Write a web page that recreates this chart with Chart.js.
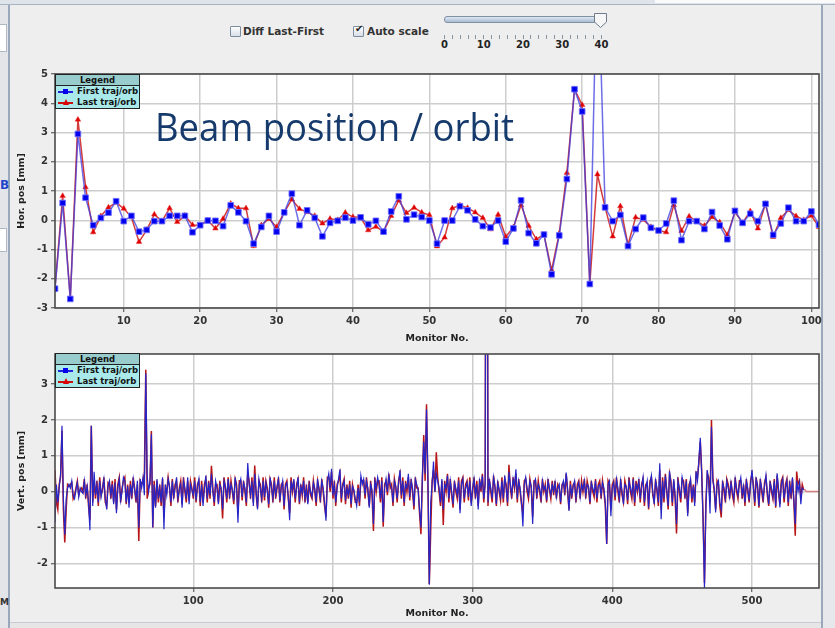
<!DOCTYPE html>
<html><head><meta charset="utf-8">
<script src="https://cdn.jsdelivr.net/npm/chart.js@4.4.1/dist/chart.umd.min.js"></script>
<style>
html,body{margin:0;padding:0;}
body{width:835px;height:628px;overflow:hidden;background:#eeeeee;position:relative;font-family:"DejaVu Sans",sans-serif;}
.a{position:absolute;}
.lbl{font:bold 10.5px "DejaVu Sans",sans-serif;color:#333;white-space:nowrap;}
.chk{width:9px;height:9px;border:1px solid #7d8da0;background:linear-gradient(#ffffff,#d8dee6);border-radius:1px;}
.legend{position:absolute;left:55px;width:83px;border:1px solid #222;background:#a9e9e9;font:bold 8.5px "DejaVu Sans",sans-serif;color:#111;}
.legend .hd{background:#99cccc;border-bottom:1px solid #222;text-align:center;height:10px;line-height:10px;}
.legend .row{position:relative;height:11px;line-height:11px;padding-left:21px;white-space:nowrap;}
.legend .ln{position:absolute;left:2px;top:5px;width:15px;height:1.5px;}
.legend .sq{position:absolute;left:7px;top:3px;width:5px;height:5px;background:#0000ee;}
.legend .tri{position:absolute;left:7px;top:2px;width:0;height:0;border-left:3px solid transparent;border-right:3px solid transparent;border-bottom:6px solid #dd0000;}
.title{position:absolute;left:155px;top:107px;font:38px "Open Sans",sans-serif;line-height:38px;color:#163a6b;white-space:nowrap;transform-origin:0 0;}
.tk{position:absolute;top:35px;width:1px;height:4px;background:#8a95a3;}
.sl{position:absolute;top:39px;font:bold 10px "DejaVu Sans",sans-serif;color:#222;transform:translateX(-50%);}
</style></head>
<body>
<!-- window chrome -->
<div class="a" style="left:0;top:0;width:835px;height:4px;background:#dfe3ea;border-bottom:1px solid #a9b4c2;"></div>
<div class="a" style="left:655px;top:0;width:180px;height:3px;background:#fafafa;"></div>
<div class="a" style="left:0;top:5px;width:8px;height:623px;background:#e3e5e8;"></div>
<div class="a" style="left:8px;top:5px;width:2px;height:623px;background:#9aa8bb;"></div>
<div class="a" style="left:0;top:24px;width:6px;height:26px;background:#fff;border:1px solid #b0b8c4;border-left:none;"></div>
<div class="a" style="left:0;top:228px;width:6px;height:22px;background:#fff;border:1px solid #b0b8c4;border-left:none;"></div>
<div class="a" style="left:0;top:178px;font:bold 12px 'DejaVu Sans';color:#2244cc;">B</div>
<div class="a" style="left:0;top:597px;font:bold 9px 'DejaVu Sans';color:#333;">M</div>
<div class="a" style="left:821px;top:5px;width:2px;height:623px;background:#9aa8bb;"></div>
<div class="a" style="left:823px;top:5px;width:12px;height:623px;background:#e6e8eb;"></div>
<div class="a" style="left:10px;top:622px;width:811px;height:6px;background:#e6e6e6;border-top:1px solid #c8ccd2;"></div>

<!-- controls -->
<div class="a chk" style="left:230px;top:26px;"></div>
<div class="a lbl" style="left:243px;top:25px;">Diff Last-First</div>
<div class="a chk" style="left:353px;top:26px;"></div>
<div class="a" style="left:355px;top:23px;font:bold 10px 'DejaVu Sans';color:#222;">✔</div>
<div class="a lbl" style="left:367px;top:25px;">Auto scale</div>
<div class="a" style="left:444px;top:16px;width:160px;height:5px;border:1px solid #7f8fa4;border-radius:3px;background:linear-gradient(#dde7f2,#a9bdd3);"></div>
<svg class="a" style="left:593px;top:12px;" width="16" height="17"><path d="M1.5 1.5 H13.5 V10 L7.5 15.5 L1.5 10 Z" fill="#f6f6f6" stroke="#6f7c8c" stroke-width="1"/></svg>
<div id="sliderTicks"></div>

<canvas id="top" class="a" style="left:0;top:55px;" width="835" height="290"></canvas>
<canvas id="bot" class="a" style="left:0;top:345px;" width="835" height="277"></canvas>

<div class="title" id="bigTitle">Beam position / orbit</div>

<div class="legend" style="top:74px;">
  <div class="hd">Legend</div>
  <div class="row"><div class="ln" style="background:#2222dd"></div><div class="sq"></div>First traj/orb</div>
  <div class="row"><div class="ln" style="background:#cc1111"></div><div class="tri"></div>Last traj/orb</div>
</div>
<div class="legend" style="top:353px;">
  <div class="hd">Legend</div>
  <div class="row"><div class="ln" style="background:#2222dd"></div><div class="sq"></div>First traj/orb</div>
  <div class="row"><div class="ln" style="background:#cc1111"></div><div class="tri"></div>Last traj/orb</div>
</div>

<script>
// ---------- DATA ----------
// Horizontal (top plot), monitors 1..101
const hFirst = [
 -2.34, 0.59,-2.69, 2.95, 0.77,-0.17, 0.08, 0.26, 0.65,-0.03,
  0.15,-0.39,-0.33,-0.03,-0.03, 0.15, 0.15, 0.15,-0.41,-0.17,
 -0.01,-0.02,-0.20, 0.51, 0.27,-0.03,-0.80,-0.23, 0.15,-0.39,
  0.27, 0.91,-0.17, 0.34, 0.08,-0.55,-0.09,-0.02, 0.09,-0.01,
  0.10,-0.14,-0.02,-0.39, 0.30, 0.82, 0.03, 0.19, 0.11,-0.01,
 -0.80,-0.01,-0.01, 0.48, 0.34, 0.03,-0.20,-0.25,-0.01,-0.73,
 -0.28, 0.68,-0.44,-0.79,-0.49,-1.85,-0.52, 1.41, 4.48, 3.72,
 -2.18, 9.50, 0.44,-0.03, 0.18,-0.88,-0.30, 0.09,-0.26,-0.35,
 -0.11, 0.67,-0.68,-0.03,-0.03,-0.30, 0.28,-0.18,-0.65, 0.32,
 -0.09, 0.22,-0.03, 0.56,-0.50,-0.11, 0.43,-0.03,-0.03, 0.30,
 -0.15];
const hLast = [
 -2.30, 0.83,-2.69, 3.44, 1.13,-0.41, 0.14, 0.44, 0.60, 0.40,
  0.11,-0.74,-0.33, 0.20,-0.03, 0.41,-0.06, 0.16,-0.16,-0.17,
 -0.01,-0.28, 0.05, 0.57, 0.41, 0.41,-0.88,-0.17, 0.05,-0.23,
  0.27, 0.71, 0.39, 0.28, 0.15,-0.11, 0.05, 0.01, 0.26, 0.11,
  0.10,-0.34,-0.22,-0.39, 0.15, 0.68, 0.25, 0.43, 0.27, 0.18,
 -0.89,-0.59, 0.41, 0.51, 0.42, 0.27, 0.08,-0.31, 0.19,-0.56,
 -0.24, 0.52,-0.19,-0.65,-0.49,-1.71,-0.45, 1.62, 4.48, 3.94,
 -2.18, 1.57, 0.44,-0.55, 0.48,-0.84, 0.10, 0.02,-0.23,-0.35,
 -0.41, 0.52,-0.36, 0.13,-0.03,-0.19, 0.11,-0.07,-0.50, 0.28,
 -0.09, 0.31,-0.28, 0.56,-0.57, 0.08, 0.35, 0.14, 0.01, 0.16,
 -0.23];
// Vertical (bottom plot), monitors 1..537 (+ flat tail of last)
const vFirst = [
 -0.86, 0.2,-0.3, 0.1, 0.5, 1.84,-0.2,-1.2,-0.2, 0.1,
  0.2, 0.1, 0.3,-0.1,-0.2, 0.05, 0.25,-0.15, 0.1, 0.0,
 -0.05, 0.3,-0.1, 0.15,-0.3,-1.08, 1.84,-0.4, 0.55,-0.1,
  0.2,-0.3, 0.3,-0.15, 0.1, 0.35,-0.2,-0.5, 0.15, 0.3,
 -0.1, 0.2,-0.35, 0.25,-0.6, 0.1, 0.35,-0.25, 0.0, 0.4,
  0.3,-0.3, 0.15,-0.45, 0.2,-0.1, 0.35, 0.05,-0.2, 0.3,
 -1.0, 0.35, 0.1, 0.4,-0.1, 3.3, 0.45, 0.0, 0.3, 1.6,
 -1.0, 0.2,-0.45, 0.35,-0.2, 0.1,-0.3, 0.4,-1.05, 0.2,
 -0.1, 0.35, 0.15,-0.3, 0.3,-0.15, 0.1, 0.4,-0.2, 0.05,
  0.2,-0.45, 0.3, 0.1,-0.2, 0.4,-0.35, 0.2, 0.05,-0.1,
  0.3,-0.25, 0.15, 0.35,-0.3, 0.2,-0.4, 0.1, 0.45,-0.2,
  0.25,-0.1, 0.5, 0.0,-0.3, 0.3, 0.1,-0.35, 0.2, 0.1,
 -0.5, 0.3, 0.15,-0.2, 0.35,-0.1, 0.2, 0.05,-0.25, 0.4,
  0.1,-0.87, 0.2, 0.35,-0.15, 0.25, 0.1,-0.3, 0.8, 0.2,
 -0.1, 0.3,-0.4, 0.5, 0.05,-0.5, 0.35, 0.1,-0.2, 0.3,
 -0.15, 0.25, 0.0,-0.35, 0.4, 0.1,-0.2, 0.3,-0.1, 0.15,
  0.35,-0.25, 0.1, 0.3,-0.4, 0.15, 0.25,-0.1,-0.8, 0.3,
  0.05, 0.35,-0.2, 0.1, 0.4,-0.3, 0.15,-0.05, 0.3,-0.2,
  0.1,-0.35, 0.2, 0.0,-0.15, 0.25, 0.1,-0.3, 0.35, 0.05,
 -0.2, 0.3, 0.1,-0.3,-0.81, 0.3, 0.5, 0.1, 0.64,-0.1,
  0.2,-0.3, 0.1, 0.35, 0.62,-0.2, 0.15, 0.3,-0.25, 0.1,
 -0.1, 0.2,-0.35, 0.15, 0.05,-0.2,-0.4, 0.1,-0.3, 0.45,
  0.2, 0.35,-0.1, 0.3, 0.1,-0.45, 0.2, 0.05,-0.9, 0.3,
  0.1, 0.4, 0.2,-0.2, 0.3,-0.85, 0.1, 0.35, 0.0, 0.45,
  0.2, 0.1,-0.3, 0.3, 0.15,-0.2, 0.25, 0.6,-0.1, 0.3,
 -0.3, 0.2, 0.1, 0.5,-0.15, 0.3, 0.1,-0.4, 0.35, 0.2,
  0.05,-0.5,-1.0, 0.4, 1.4, 0.5, 2.3, 0.4,-2.6,-0.3,
  0.2, 0.84, 0.0, 0.5, 0.3, 0.1,-0.3, 0.35,-0.5, 0.2,
  0.1, 0.45,-0.2, 0.3, 0.0,-0.35, 0.25, 0.1,-0.1, 0.3,
 -0.6, 0.2, 0.35,-0.2, 0.1, 0.25,-0.15, 0.3,-0.4, 0.1,
  0.35,-0.1, 0.2,-0.5, 0.3, 0.1, 0.45,-0.2, 0.2, 20,
 -0.3, 0.3, 0.1,-0.2, 0.4, 0.15,-0.35, 0.25, 0.05,-0.15,
  0.3,-0.2, 0.45, 0.1,-0.3, 0.55, 0.2,-0.1, 0.35, 0.15,
  0.62,-0.2, 0.3, 0.1,-0.3,-0.97, 0.2, 0.4, 0.1,-0.1,
  0.3, 0.15,-0.9, 0.25, 0.35,-0.1, 0.2, 0.1,-0.2, 0.3,
  0.05, 0.15,-0.25, 0.3, 0.1,-0.1, 0.2, 0.0, 0.25,-0.15,
  0.1, 0.2,-0.3, 0.15, 0.3, 0.0, 0.53, 0.1,-0.54, 0.2,
 -0.1, 0.15, 0.3,-0.2, 0.1, 0.25,-0.15, 0.2, 0.05, 0.3,
 -0.1, 0.2, 0.15,-0.3, 0.25, 0.1,-0.05, 0.3,-0.2, 0.15,
  0.2,-0.1, 0.25, 0.1,-0.3,-1.46, 0.2, 0.3,-0.69, 0.1,
  0.25,-0.15, 0.35, 0.1,-0.2, 0.3, 0.0,-0.35, 0.2, 0.15,
 -0.25, 0.3, 0.1,-0.1, 0.35,-0.3, 0.2, 0.05, 0.3,-0.2,
  0.15, 0.4,-0.3, 0.1, 0.3,-0.45, 0.2, 0.45, 0.0,-0.35,
  0.3, 0.1,-0.3, 0.79,-0.77, 0.3,-0.2, 0.45, 0.05,-0.4,
  0.57, 0.2,-0.3, 0.35,-0.1,-0.9, 0.3, 0.1,-0.2, 0.4,
  0.2,-0.1, 0.3,-0.69, 0.1, 0.35,-0.2, 0.15,-0.4, 0.57,
  0.3, 0.9, 1.5, 0.5,-0.8,-2.7,-0.5, 0.6, 0.3,-0.61,
  1.8, 0.3, 0.1,-0.58, 0.2, 0.3,-0.3,-0.5, 0.25, 0.1,
 -0.2, 0.3, 0.1,-0.15, 0.25, 0.0,-0.2, 0.35, 0.1,-0.1,
  0.2, 0.39,-0.1, 0.15,-0.3, 0.3, 0.1,-0.25, 0.2, 0.6,
  0.1,-0.3, 0.35, 0.2,-0.4, 0.3, 0.1,-0.2, 0.15, 0.46,
  0.0,-0.35, 0.25, 0.1,-0.15, 0.3,-0.4, 0.51, 0.1,-0.44,
  0.2, 0.35,-0.2, 0.1, 0.3,-0.3, 0.2,-0.1, 0.4,-0.2,
 -0.9, 0.3, 0.0, 0.25,-0.35, 0.1, 0.05];
const vLast = [
  0.6,-0.3,-0.5, 0.2, 0.4, 1.7,-0.5,-1.42,-0.5, 0.2,
  0.15, 0.2, 0.25,-0.2,-0.1, 0.1, 0.3,-0.1, 0.05, 0.1,
  0.0, 0.35,-0.2, 0.2,-0.4,-0.8, 1.84,-0.3, 0.3,-0.2,
  0.3,-0.4, 0.4,-0.1, 0.05, 0.4,-0.3,-0.4, 0.25, 0.2,
 -0.2, 0.3,-0.3, 0.35,-0.5, 0.2, 0.4,-0.3, 0.1, 0.3,
  0.4,-0.35, 0.2,-0.3, 0.3,-0.2, 0.4, 0.1,-0.3, 0.2,
 -1.38, 0.3, 0.2, 0.3, 0.5, 3.4,-0.2, 0.1, 0.2, 1.69,
 -1.0, 0.3,-0.4, 0.3,-0.3, 0.2,-0.4, 0.35,-0.7, 0.1,
  0.0, 0.4, 0.1,-0.4, 0.35,-0.2, 0.2, 0.3,-0.3, 0.1,
  0.3,-0.35, 0.4, 0.0,-0.3, 0.3,-0.25, 0.3, 0.1,-0.2,
  0.4,-0.3, 0.2, 0.3,-0.4, 0.3,-0.3, 0.2, 0.35,-0.3,
  0.3,-0.2, 0.72, 0.1,-0.4, 0.2, 0.2,-0.3, 0.3, 0.0,
 -0.75, 0.4, 0.1,-0.3, 0.4,-0.2, 0.3, 0.0,-0.35, 0.35,
  0.2,-0.6, 0.3, 0.3,-0.25, 0.3, 0.0,-0.4, 0.5, 0.3,
 -0.2, 0.4,-0.3, 0.73,-0.1,-0.45, 0.3, 0.2,-0.3, 0.4,
 -0.25, 0.3, 0.1,-0.45, 0.35, 0.2,-0.3, 0.4,-0.2, 0.1,
  0.4,-0.3, 0.2, 0.25,-0.5, 0.2, 0.3,-0.2,-0.6, 0.4,
  0.0, 0.3,-0.3, 0.2, 0.35,-0.35, 0.2,-0.1, 0.4,-0.3,
  0.2,-0.3, 0.3,-0.1,-0.2, 0.3, 0.0,-0.4, 0.3, 0.1,
 -0.3, 0.35, 0.0,-0.4,-0.7, 0.4, 0.4, 0.0, 0.55,-0.2,
  0.3,-0.4, 0.2, 0.3, 0.5,-0.3, 0.2, 0.35,-0.35, 0.2,
 -0.2, 0.3,-0.45, 0.2, 0.0,-0.3,-0.3, 0.2,-0.4, 0.35,
  0.3, 0.3,-0.2, 0.4, 0.0,-0.4, 0.3,-0.1,-1.1, 0.4,
  0.0, 0.3, 0.3,-0.3, 0.4,-0.98, 0.2, 0.3,-0.1, 0.5,
  0.1, 0.2,-0.4, 0.35, 0.1,-0.3, 0.3, 0.5,-0.2, 0.4,
 -0.4, 0.3, 0.0, 0.4,-0.25, 0.35, 0.0,-0.5, 0.4, 0.1,
  0.1,-0.6,-1.19, 0.3, 1.58, 0.3, 2.44, 0.2,-2.58,-1.1,
  0.3, 0.6, 0.0, 1.1, 0.4, 0.0,-0.4, 0.3,-0.93, 0.3,
  0.0, 0.5,-0.3, 0.35,-0.1,-0.45, 0.3, 0.0,-0.2, 0.4,
 -0.5, 0.3, 0.4,-0.3, 0.2, 0.3,-0.25, 0.4,-0.3, 0.0,
  0.4,-0.2, 0.3,-0.4, 0.35, 0.0, 0.5,-0.3, 0.3, 20,
 -0.4, 0.35, 0.0,-0.3, 0.45, 0.1,-0.4, 0.3, 0.0,-0.25,
  0.4,-0.3, 0.35, 0.2,-0.4, 0.75, 0.1,-0.2, 0.4, 0.1,
  0.5,-0.3, 0.35, 0.0,-0.35,-0.6, 0.3, 0.35, 0.0,-0.2,
  0.35, 0.1,-0.7, 0.3, 0.3,-0.2, 0.3, 0.0,-0.3, 0.35,
  0.0, 0.2,-0.3, 0.35, 0.05,-0.2, 0.3,-0.1, 0.3,-0.2,
  0.2, 0.1,-0.35, 0.2, 0.25,-0.1, 0.5, 0.0,-0.5, 0.3,
 -0.2, 0.2, 0.25,-0.3, 0.2, 0.3,-0.2, 0.3, 0.0, 0.35,
 -0.2, 0.3, 0.1,-0.35, 0.3, 0.0,-0.15, 0.35,-0.3, 0.2,
  0.3,-0.2, 0.3, 0.0,-0.4,-1.46, 0.3, 0.2,-0.5, 0.2,
  0.3,-0.25, 0.4, 0.0,-0.3, 0.35,-0.1,-0.3, 0.3, 0.1,
 -0.35, 0.4, 0.0,-0.2, 0.4,-0.4, 0.3, 0.0, 0.35,-0.3,
  0.2, 0.35,-0.4, 0.2, 0.25,-0.5, 0.3, 0.4,-0.1,-0.3,
  0.35, 0.0,-0.4, 0.6,-0.5, 0.4,-0.3, 0.5, 0.0,-0.5,
  0.5, 0.3,-0.4, 0.3,-0.2,-1.17, 0.4, 0.0,-0.3, 0.35,
  0.3,-0.2, 0.35,-0.6, 0.2, 0.3,-0.3, 0.2,-0.3, 0.5,
  0.4, 0.8, 1.4, 0.6,-0.7,-2.55,-0.3, 0.5, 0.4,-0.3,
  2.0, 0.4, 0.0,-0.5, 0.3, 0.2,-0.4,-0.72, 0.3, 0.0,
 -0.3, 0.35, 0.2,-0.2, 0.3,-0.1,-0.3, 0.4, 0.0,-0.2,
  0.3, 0.3,-0.2, 0.2,-0.4, 0.35, 0.0,-0.3, 0.3, 0.5,
  0.2,-0.4, 0.4, 0.1,-0.45, 0.35, 0.0,-0.3, 0.25, 0.4,
 -0.1,-0.4, 0.3, 0.0,-0.2, 0.35,-0.45, 0.45, 0.0,-0.35,
  0.3, 0.4,-0.3, 0.2, 0.35,-0.4, 0.3,-0.2, 0.35,-0.3,
 -1.23, 0.56, 0.2, 0.3,-0.2, 0.2, 0.05,
  0.05, 0, 0, 0, 0, 0, 0, 0, 0, 0, 0];
const vLastMeasuredCount = 537;   // beyond this the "last" trace is a flat tail
// Tick labels
const hXTicks = [10,20,30,40,50,60,70,80,90,100];
const hYTicks = [-3,-2,-1,0,1,2,3,4,5];
const vXTicks = [100,200,300,400,500];
const vYTicks = [-2,-1,0,1,2,3];
const sliderLabels = [0,10,20,30,40];
const seriesNames = ['First traj/orb','Last traj/orb'];

// ---------- slider ticks (widget decoration) ----------
(function(){
  const host=document.getElementById('sliderTicks');
  const x0=444, x1=601;
  for(let i=0;i<=20;i++){const d=document.createElement('div');d.className='tk';d.style.left=(x0+(x1-x0)*i/20)+'px';host.appendChild(d);}
  sliderLabels.forEach((v,i)=>{const d=document.createElement('div');d.className='sl';d.textContent=v;d.style.left=(x0+(x1-x0)*i/(sliderLabels.length-1)+0.5)+'px';host.appendChild(d);});
})();

// fit title width
(function(){const t=document.getElementById('bigTitle');const w=t.getBoundingClientRect().width;t.style.transform='scaleX('+(359/w)+')';})();

const toXY = arr => arr.map((v,i)=>({x:i+1,y:v}));
const FONT='"DejaVu Sans", sans-serif';

const framePlugin={id:'frame',
  beforeDraw(chart){const {ctx,chartArea:a}=chart;ctx.save();ctx.fillStyle='#ffffff';ctx.fillRect(a.left,a.top,a.right-a.left,a.bottom-a.top);ctx.restore();},
  afterDraw(chart){const {ctx,chartArea:a}=chart;ctx.save();ctx.strokeStyle='#4a4a4a';ctx.lineWidth=1.6;ctx.strokeRect(a.left,a.top,a.right-a.left,a.bottom-a.top);ctx.restore();}};

function xAxis(min,max,ticks,h,padBottom){
  return {type:'linear',min,max,
    afterBuildTicks:s=>{s.ticks=ticks.map(v=>({value:v}));},
    afterFit:s=>{s.height=h;},
    grid:{color:'#cdcdcd',lineWidth:1.5,tickLength:4,tickColor:'#444',tickWidth:1},
    border:{display:false},
    ticks:{color:'#333',font:{family:FONT,weight:'bold',size:10},padding:3,maxRotation:0,autoSkip:false},
    title:{display:true,text:'Monitor No.',color:'#222',font:{family:FONT,weight:'bold',size:9.5},padding:{top:0,bottom:padBottom}}};
}
function yAxis(min,max,ticks,label){
  return {type:'linear',min,max,
    afterBuildTicks:s=>{s.ticks=ticks.map(v=>({value:v}));},
    afterFit:s=>{s.width=55;},
    grid:{color:'#cdcdcd',lineWidth:1.5,tickLength:4,tickColor:'#444',tickWidth:1},
    border:{display:false},
    ticks:{color:'#333',font:{family:FONT,weight:'bold',size:10},padding:3},
    title:{display:true,text:label,color:'#222',font:{family:FONT,weight:'bold',size:9.5},padding:{top:16,bottom:0}}};
}

new Chart(document.getElementById('top'),{
  type:'line',
  data:{datasets:[
    {label:seriesNames[0],data:toXY(hFirst),borderColor:'rgba(60,60,225,0.75)',borderWidth:1.5,
     pointStyle:'rect',pointRadius:4,pointBackgroundColor:'#0000ee',pointBorderColor:'rgba(110,110,255,0.9)',pointBorderWidth:1,tension:0,clip:0},
    {label:seriesNames[1],data:toXY(hLast),borderColor:'rgba(205,25,25,0.85)',borderWidth:1.5,
     pointStyle:'triangle',pointRadius:3.2,pointBackgroundColor:'#dd0000',pointBorderColor:'#e33',pointBorderWidth:0.5,tension:0,clip:0}
  ]},
  options:{responsive:false,animation:false,devicePixelRatio:1,
    layout:{padding:{top:19,right:16,left:0,bottom:0}},
    plugins:{legend:{display:false},tooltip:{enabled:false}},
    scales:{x:xAxis(1,101,hXTicks,37,1),y:yAxis(-3,5,hYTicks,'Hor. pos [mm]')}},
  plugins:[framePlugin]
});

new Chart(document.getElementById('bot'),{
  type:'line',
  data:{datasets:[
    {label:seriesNames[0],data:toXY(vFirst),borderColor:'#2626c8',borderWidth:1.2,pointRadius:0,tension:0,clip:0},
    {label:seriesNames[1],data:toXY(vLast),borderColor:'#b81616',borderWidth:1.5,pointRadius:0,tension:0,clip:0,
     segment:{borderColor:c=>c.p0DataIndex>=vLastMeasuredCount-1?'rgba(215,110,110,0.85)':undefined}}
  ]},
  options:{responsive:false,animation:false,devicePixelRatio:1,
    layout:{padding:{top:8,right:16,left:0,bottom:0}},
    plugins:{legend:{display:false},tooltip:{enabled:false}},
    scales:{x:xAxis(1,548,vXTicks,34,3),y:yAxis(-2.69,3.84,vYTicks,'Vert. pos [mm]')}},
  plugins:[framePlugin]
});
</script>
</body></html>
